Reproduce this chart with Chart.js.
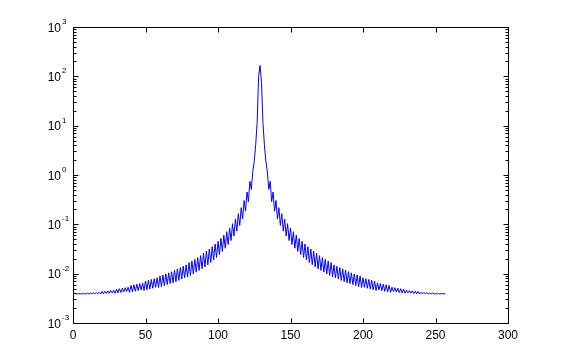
<!DOCTYPE html>
<html>
<head>
<meta charset="utf-8">
<script src="https://cdn.jsdelivr.net/npm/chart.js@4"></script>
<style>
  body { margin: 0; background: #ffffff; }
  canvas { display: block; }
</style>
</head>
<body>
<canvas id="ctx" width="561" height="364"></canvas>
<script>

// magnitude, samples 1..128 (left of the peak)
let leftSide = [
    0.0039, 0.00394, 0.00386, 0.00394, 0.00387, 0.00395, 0.00388, 0.00397, 0.00383, 0.00407,
    0.00384, 0.00409, 0.00387, 0.00412, 0.0039, 0.00416, 0.00393, 0.00419, 0.00387, 0.00437,
    0.00391, 0.00442, 0.00396, 0.00448, 0.00402, 0.00455, 0.00408, 0.00462, 0.004, 0.00488,
    0.00407, 0.00497, 0.00415, 0.00508, 0.00425, 0.00519, 0.00434, 0.00531, 0.00418, 0.00579,
    0.00428, 0.00594, 0.0044, 0.00612, 0.00453, 0.00629, 0.00467, 0.00649, 0.00455, 0.00712,
    0.0047, 0.00737, 0.00487, 0.00764, 0.00506, 0.00794, 0.00527, 0.00826, 0.00523, 0.00904,
    0.00546, 0.00945, 0.00572, 0.00989, 0.006, 0.0104, 0.00631, 0.01095, 0.0065, 0.01182,
    0.00687, 0.01252, 0.00729, 0.01329, 0.00774, 0.01415, 0.00826, 0.0151, 0.00852, 0.0168,
    0.00916, 0.0181, 0.00988, 0.01955, 0.0107, 0.0212, 0.01163, 0.0232, 0.0125, 0.0259,
    0.0137, 0.0286, 0.0151, 0.0317, 0.0168, 0.0354, 0.0189, 0.0399, 0.0213, 0.0453,
    0.0244, 0.052, 0.0281, 0.0603, 0.0328, 0.0709, 0.0389, 0.0846, 0.0469, 0.103,
    0.0577, 0.128, 0.0727, 0.164, 0.0946, 0.218, 0.128, 0.304, 0.184, 0.453,
    0.288, 0.747, 0.511, 1.2, 1.9, 4.1, 11.6, 100
]

// sample 129
let centre = [166]

// samples 130..257 (right of the peak)
let rightSide = [
    74, 11.6, 4.1, 1.9, 1.2, 0.511, 0.747, 0.288, 0.453, 0.184,
    0.304, 0.128, 0.218, 0.0946, 0.164, 0.0727, 0.128, 0.0577, 0.103, 0.0469,
    0.0846, 0.0389, 0.0709, 0.0328, 0.0603, 0.0281, 0.052, 0.0244, 0.0453, 0.0213,
    0.0399, 0.0189, 0.0354, 0.0168, 0.0317, 0.0151, 0.0286, 0.0137, 0.0259, 0.0125,
    0.0232, 0.01163, 0.0212, 0.0107, 0.01955, 0.00988, 0.0181, 0.00916, 0.0168, 0.00852,
    0.0151, 0.00826, 0.01415, 0.00774, 0.01329, 0.00729, 0.01252, 0.00687, 0.01182, 0.0065,
    0.01095, 0.00631, 0.0104, 0.006, 0.00989, 0.00572, 0.00945, 0.00546, 0.00904, 0.00523,
    0.00826, 0.00527, 0.00794, 0.00506, 0.00764, 0.00487, 0.00737, 0.0047, 0.00712, 0.00455,
    0.00649, 0.00467, 0.00629, 0.00453, 0.00612, 0.0044, 0.00594, 0.00428, 0.00579, 0.00418,
    0.00531, 0.00434, 0.00519, 0.00425, 0.00508, 0.00415, 0.00497, 0.00407, 0.00488, 0.004,
    0.00462, 0.00408, 0.00455, 0.00402, 0.00448, 0.00396, 0.00442, 0.00391, 0.00437, 0.00387,
    0.00419, 0.00393, 0.00416, 0.0039, 0.00412, 0.00387, 0.00409, 0.00384, 0.00407, 0.00383,
    0.00397, 0.00388, 0.00395, 0.00387, 0.00394, 0.00386, 0.00394, 0.0039
]

let xTicks = [0, 50, 100, 150, 200, 250, 300]
let yExponents = [-3, -2, -1, 0, 1, 2, 3]


let magnitude = leftSide.concat(centre, rightSide)
// sample number starts at 1
let points = magnitude.map((v, i) => ({ x: i + 1, y: v }))


// matlab style box, inward ticks and 10^n labels
let matlabAxes = {
    id: 'matlabAxes',
    afterDraw(chart) {
        let c = chart.ctx
        let xs = chart.scales.x
        let ys = chart.scales.y
        let a = chart.chartArea
        let L = a.left + 0.5, R = a.right + 0.5, T = a.top + 0.5, B = a.bottom + 0.5

        c.save()
        c.strokeStyle = '#000000'
        c.lineWidth = 1
        c.strokeRect(L, T, R - L, B - T)

        c.beginPath()
        xTicks.forEach(v => {
            let px = Math.round(xs.getPixelForValue(v)) + 0.5
            c.moveTo(px, B); c.lineTo(px, B - 5)
            c.moveTo(px, T); c.lineTo(px, T + 5)
        })
        yExponents.forEach((n, i) => {
            let py = Math.round(ys.getPixelForValue(Math.pow(10, n))) + 0.5
            c.moveTo(L, py); c.lineTo(L + 5, py)
            c.moveTo(R, py); c.lineTo(R - 5, py)
            if (i < yExponents.length - 1) {
                for (let k = 2; k <= 9; k++) {
                    let pm = Math.round(ys.getPixelForValue(k * Math.pow(10, n))) + 0.5
                    c.moveTo(L, pm); c.lineTo(L + 3, pm)
                    c.moveTo(R, pm); c.lineTo(R - 3, pm)
                }
            }
        })
        c.stroke()

        c.fillStyle = '#000000'
        c.font = '12px "Liberation Sans", Arial, sans-serif'
        c.textAlign = 'center'
        c.textBaseline = 'alphabetic'
        xTicks.forEach(v => {
            c.fillText(String(v), xs.getPixelForValue(v), a.bottom + 16)
        })

        yExponents.forEach(n => {
            let py = ys.getPixelForValue(Math.pow(10, n))
            c.font = '12px "Liberation Sans", Arial, sans-serif'
            c.textAlign = 'right'
            c.fillText('10', a.left - 12, py + 4.5)
            c.font = '8px "Liberation Sans", Arial, sans-serif'
            c.textAlign = 'left'
            c.fillText(String(n), a.left - 11, py - 3)
        })
        c.restore()
    }
}


let chart = new Chart(document.getElementById('ctx'), {
    type: 'line',
    data: {
        datasets: [{
            data: points,
            borderColor: '#0000ff',
            borderWidth: 1,
            pointRadius: 0,
            tension: 0,
            fill: false
        }]
    },
    options: {
        responsive: false,
        animation: false,
        devicePixelRatio: 1,
        layout: { padding: { left: 73, top: 27, right: 53, bottom: 41 } },
        scales: {
            x: { type: 'linear', min: 0, max: 300, display: false },
            y: { type: 'logarithmic', min: 0.001, max: 1000, display: false }
        },
        plugins: {
            legend: { display: false },
            tooltip: { enabled: false }
        }
    },
    plugins: [matlabAxes]
})

</script>
</body>
</html>
